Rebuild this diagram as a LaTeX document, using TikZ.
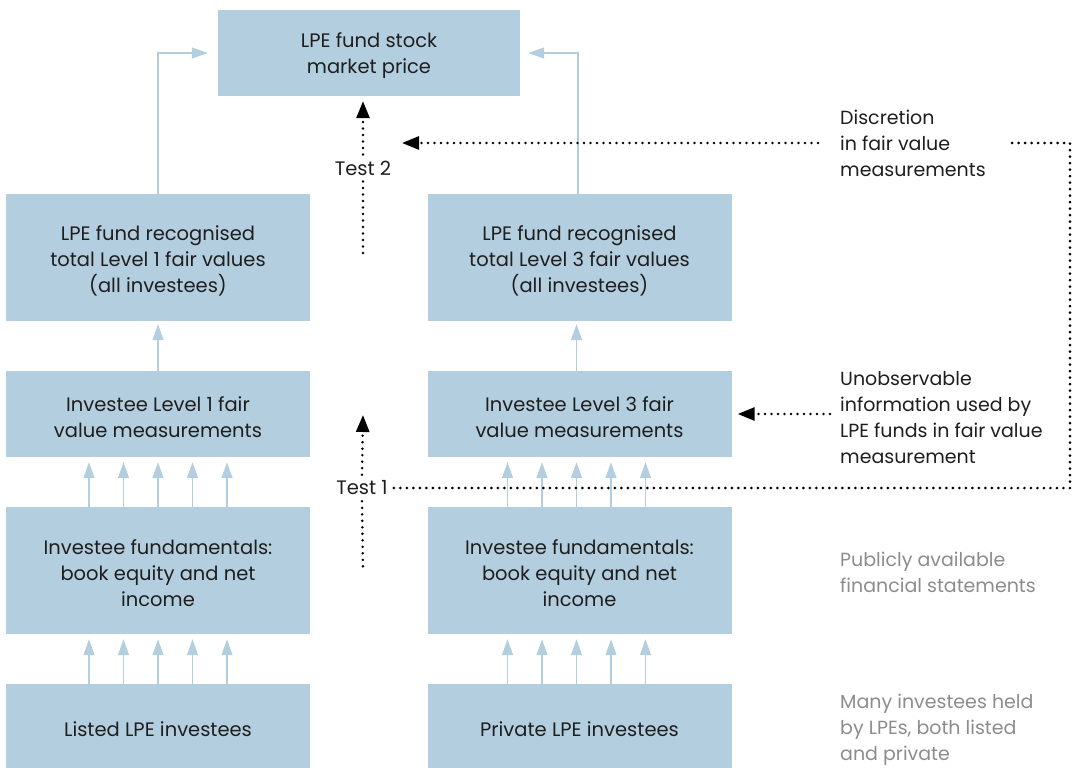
\documentclass[tikz,border=0pt]{standalone}
\usepackage{fontspec}
\setmainfont{Poppins}
\usetikzlibrary{arrows.meta,calc}
\definecolor{boxblue}{RGB}{179,207,223}
\definecolor{txt}{RGB}{30,30,30}
\definecolor{greytxt}{RGB}{140,140,140}
\newcommand{\firststrut}{\rule{0pt}{21pt}}
\tikzset{
  box/.style={fill=boxblue, draw=none, align=center, inner sep=0pt,
    minimum width=304pt, font=\fontsize{19.5}{26}\selectfont, text=txt},
  tallbox/.style={box, minimum height=127pt},
  shortbox/.style={box, minimum height=86pt},
  bline/.style={draw=boxblue, line width=1.4pt, -{Triangle[length=16pt,width=11pt]}},
  dotline/.style={line width=2.8pt, dash pattern=on 0pt off 6.5pt, line cap=round},
  darrow/.style={dotline, -{Triangle[length=17pt,width=13pt]}},
  note/.style={align=left, anchor=west, inner sep=0pt, font=\fontsize{19}{26}\selectfont, text=txt},
  greynote/.style={note, text=greytxt},
  testlbl/.style={inner sep=6pt, font=\fontsize{19.5}{26}\selectfont, text=txt}
}
\begin{document}
\begin{tikzpicture}[x=1pt,y=-1pt]
\useasboundingbox (0,0) rectangle (1084,768);
% boxes
\node[shortbox, minimum width=302pt] (top) at (369,53) {\firststrut LPE fund stock\\market price};
\node[tallbox] (rec1) at (158,257.5) {\firststrut LPE fund recognised\\total Level 1 fair values\\(all investees)};
\node[tallbox] (rec3) at (579.5,257.5) {\firststrut LPE fund recognised\\total Level 3 fair values\\(all investees)};
\node[shortbox] (inv1) at (158,414) {\firststrut Investee Level 1 fair\\value measurements};
\node[shortbox] (inv3) at (579.5,414) {\firststrut Investee Level 3 fair\\value measurements};
\node[tallbox] (fund1) at (158,570.5) {\firststrut Investee fundamentals:\\book equity and net\\income};
\node[tallbox] (fund3) at (579.5,570.5) {\firststrut Investee fundamentals:\\book equity and net\\income};
\node[box, minimum height=84pt] (list) at (158,726) {\firststrut Listed LPE investees};
\node[box, minimum height=84pt] (priv) at (579.5,726) {\firststrut Private LPE investees};
% notes
\node[note] (disc) at (840,143) {Discretion\\in fair value\\measurements};
\node[note] (unob) at (840,417.5) {Unobservable\\information used by\\LPE funds in fair value\\measurement};
\node[greynote] (pub) at (840,572) {Publicly available\\financial statements};
\node[greynote] (many) at (840,729.5) {Many investees held\\by LPEs, both listed\\and private};
% test labels
\node[testlbl] (t2) at (363,168) {Test 2};
\node[testlbl] (t1) at (362,488) {Test 1};
\coordinate (t2b) at (363,257);
\coordinate (t1b) at (363,571);
\coordinate (t1tip) at (363,415);
\coordinate (corner) at (1070,143);
\coordinate (disctip) at (402,143);
% blue connectors
\draw[bline, shorten >=10pt] (rec1.north) |- (top.west);
\draw[bline, shorten >=8pt] ([xshift=-1.5pt]rec3.north) |- (top.east);
\draw[bline, shorten >=3pt] (inv1.north) -- (rec1.south);
\draw[bline, shorten >=3pt] ([xshift=-3pt]inv3.north) -- ([xshift=-3pt]rec3.south);
\foreach \d in {-69,-34.5,0,34.5,69}{
  \draw[bline, shorten >=5pt] ([xshift=\d pt]fund1.north) -- ([xshift=\d pt]inv1.south);
  \draw[bline, shorten >=5pt] ([xshift=\d pt-3pt]fund3.north) -- ([xshift=\d pt-3pt]inv3.south);
  \draw[bline, shorten >=5pt] ([xshift=\d pt]list.north) -- ([xshift=\d pt]fund1.south);
  \draw[bline, shorten >=5pt] ([xshift=\d pt-3pt]priv.north) -- ([xshift=\d pt-3pt]fund3.south);
}
% dotted connectors
\draw[dotline] (t2.south) -- (t2b);
\draw[darrow] (t2.north) -- ($(t2.north |- top.south)+(0,5)$);
\draw[dotline] (t1.south) -- (t1b);
\draw[darrow] (t1.north) -- (t1tip);
\draw[dotline] (t1.east) -| (corner) -- ([xshift=20pt]disc.east);
\draw[darrow] ([xshift=-22pt]disc.west) -- (disctip);
\draw[darrow] ($(unob.west |- inv3.east)+(-10,0)$) -- ([xshift=6pt]inv3.east);
\end{tikzpicture}
\end{document}
